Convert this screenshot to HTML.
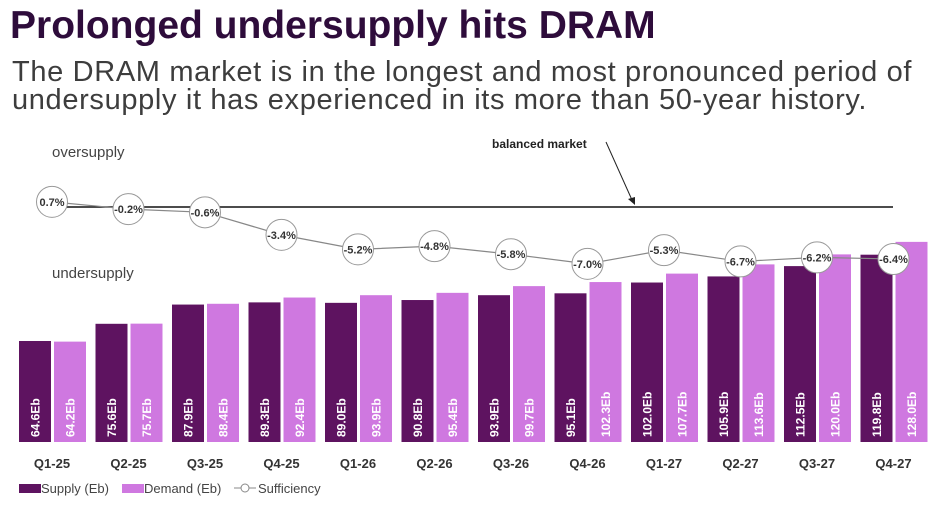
<!DOCTYPE html>
<html><head><meta charset="utf-8"><style>
body{margin:0;width:935px;height:507px;background:#fff;overflow:hidden;font-family:"Liberation Sans",sans-serif}
h1{position:absolute;left:10px;top:4px;margin:0;font-size:39px;font-weight:bold;color:#2e0c3b;letter-spacing:0px;white-space:nowrap}
.sub{position:absolute;left:12px;top:58px;margin:0;font-size:29px;line-height:28px;color:#3d3d3d;letter-spacing:0.65px;white-space:nowrap}
svg{position:absolute;left:0;top:0}
</style></head><body>
<h1>Prolonged undersupply hits DRAM</h1>
<p class="sub">The DRAM market is in the longest and most pronounced period of<br>undersupply it has experienced in its more than 50-year history.</p>
<svg id="c" width="935" height="507"></svg>
<script>
const categories=["Q1-25","Q2-25","Q3-25","Q4-25","Q1-26","Q2-26","Q3-26","Q4-26","Q1-27","Q2-27","Q3-27","Q4-27"];
const supply=[64.6,75.6,87.9,89.3,89.0,90.8,93.9,95.1,102.0,105.9,112.5,119.8];
const demand=[64.2,75.7,88.4,92.4,93.9,95.4,99.7,102.3,107.7,113.6,120.0,128.0];
const sufficiency=[0.7,-0.2,-0.6,-3.4,-5.2,-4.8,-5.8,-7.0,-5.3,-6.7,-6.2,-6.4];
const NS="http://www.w3.org/2000/svg";
const svg=document.getElementById('c');
function mk(t,a,p){const e=document.createElementNS(NS,t);for(const k in a)e.setAttribute(k,a[k]);(p||svg).appendChild(e);return e;}
const base=442, yB=v=>base-v*1.5635, gx=i=>19+i*76.5, yS=v=>207.5-v*8.05, bw=32;
mk('text',{x:52,y:157,'font-size':15,fill:'#444'}).textContent='oversupply';
mk('text',{x:52,y:278,'font-size':15,fill:'#444'}).textContent='undersupply';
const bl=mk('line',{x1:52,y1:207,x2:893,y2:207,stroke:'#111','stroke-width':1.5});

const bt=mk('text',{x:492,y:148,'font-size':12,'font-weight':'bold',fill:'#222'});bt.textContent='balanced market';

mk('line',{x1:606,y1:142,x2:632,y2:200,stroke:'#222','stroke-width':1});
mk('polygon',{points:'628,199 635,205 635,197',fill:'#222'});
categories.forEach((c,i)=>{
  const x=gx(i);
  const s=mk('rect',{x:x,y:yB(supply[i]),width:bw,height:base-yB(supply[i]),fill:'#5e1360'});
  
  const d=mk('rect',{x:x+35,y:yB(demand[i]),width:bw,height:base-yB(demand[i]),fill:'#cf78e0'});
  
  [[supply[i],x+bw/2],[demand[i],x+35+bw/2]].forEach(([v,cx])=>{
    const t=mk('text',{transform:`translate(${cx+4.5},437) rotate(-90)`,'font-size':12,'font-weight':'bold',fill:'#fff'});
    t.textContent=v.toFixed(1)+'Eb';
  });
  const l=mk('text',{x:x+33,y:468,'font-size':13,'font-weight':'bold',fill:'#333','text-anchor':'middle'});
  l.textContent=c;
});
let pts=sufficiency.map((v,i)=>(gx(i)+33)+','+yS(v)).join(' ');
const pl=mk('polyline',{points:pts,fill:'none',stroke:'#888','stroke-width':1.2});

sufficiency.forEach((v,i)=>{
  const cx=gx(i)+33,cy=yS(v);
  const c=mk('circle',{cx:cx,cy:cy,r:15.5,fill:'#fff',stroke:'#999','stroke-width':1});
  
  const t=mk('text',{x:cx,y:cy+4,'font-size':11,'font-weight':'bold',fill:'#333','text-anchor':'middle'});
  t.textContent=v.toFixed(1)+'%';
});
const lg=mk('g',{});
mk('rect',{x:19,y:484,width:22,height:9,fill:'#5e1360'},lg);
mk('text',{x:41,y:493,'font-size':13,fill:'#444'},lg).textContent='Supply (Eb)';
mk('rect',{x:122,y:484,width:22,height:9,fill:'#cf78e0'},lg);
mk('text',{x:144,y:493,'font-size':13,fill:'#444'},lg).textContent='Demand (Eb)';
mk('line',{x1:234,y1:488,x2:256,y2:488,stroke:'#888'},lg);
mk('circle',{cx:245,cy:488,r:4,fill:'#fff',stroke:'#888'},lg);
mk('text',{x:258,y:493,'font-size':13,fill:'#444'},lg).textContent='Sufficiency';
</script>
</body></html>
